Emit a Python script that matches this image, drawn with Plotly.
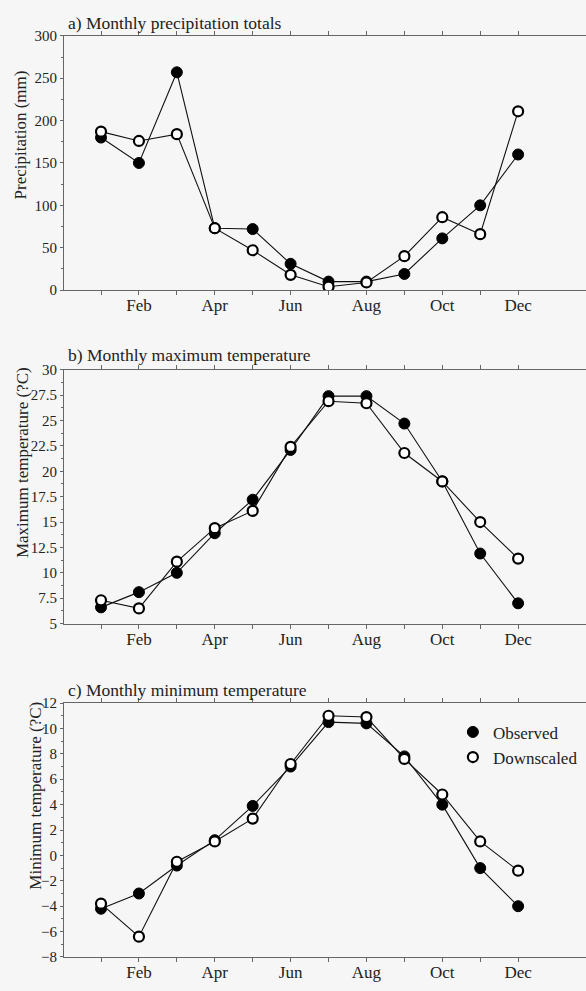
import plotly.graph_objects as go
from plotly.subplots import make_subplots

months = list(range(1, 13))
tick_labels = ["", "Feb", "", "Apr", "", "Jun", "", "Aug", "", "Oct", "", "Dec"]

precip_obs = [180, 150, 257, 73, 72, 31, 10, 10, 19, 61, 100, 160]
precip_down = [187, 176, 184, 73, 47, 18, 4, 9, 40, 86, 66, 211]

tmax_obs = [6.6, 8.1, 10.0, 13.9, 17.2, 22.1, 27.4, 27.4, 24.7, 19.0, 11.9, 7.0]
tmax_down = [7.3, 6.5, 11.1, 14.4, 16.1, 22.4, 26.9, 26.7, 21.8, 19.0, 15.0, 11.4]

tmin_obs = [-4.2, -3.0, -0.8, 1.2, 3.9, 7.0, 10.5, 10.4, 7.8, 4.0, -1.0, -4.0]
tmin_down = [-3.8, -6.4, -0.5, 1.1, 2.9, 7.2, 11.0, 10.9, 7.6, 4.8, 1.1, -1.2]

panels = [
    (precip_obs, precip_down, [0, 300], 50, 25, "a) Monthly precipitation totals", "Precipitation (mm)"),
    (tmax_obs, tmax_down, [5, 30], 2.5, 1.25, "b) Monthly maximum temperature", "Maximum temperature (?C)"),
    (tmin_obs, tmin_down, [-8, 12], 2, 1, "c) Monthly minimum temperature", "Minimum temperature (?C)"),
]

FONT = "Liberation Serif"
TXT = "#222222"
AX = "#666666"
BG = "#f6f6f6"

fig = make_subplots(rows=3, cols=1)

for i, (obs, down, yr, dt, mdt, title, ytitle) in enumerate(panels, start=1):
    leg = i == 3
    fig.add_trace(go.Scatter(x=months, y=obs, mode="lines", line=dict(color="#111111", width=1.1),
                             showlegend=False, hoverinfo="skip"), row=i, col=1)
    fig.add_trace(go.Scatter(x=months, y=obs, mode="markers", name="Observed",
                             marker=dict(symbol="circle", size=11, color="#000000",
                                         line=dict(color="#000000", width=1)),
                             showlegend=leg), row=i, col=1)
    fig.add_trace(go.Scatter(x=months, y=down, mode="lines", line=dict(color="#111111", width=1.1),
                             showlegend=False, hoverinfo="skip"), row=i, col=1)
    fig.add_trace(go.Scatter(x=months, y=down, mode="markers", name="Downscaled",
                             marker=dict(symbol="circle", size=10, color="#ffffff",
                                         line=dict(color="#000000", width=2.2)),
                             showlegend=leg), row=i, col=1)
    fig.update_xaxes(range=[0.024, 13.79], tickvals=months, ticktext=tick_labels,
                     ticks="outside", ticklen=4, tickcolor=AX, showline=True, linecolor=AX,
                     linewidth=1, mirror="ticks", showgrid=False, zeroline=False,
                     ticklabelstandoff=-4,
                     tickfont=dict(family=FONT, size=17, color=TXT), row=i, col=1)
    fig.update_yaxes(range=yr, dtick=dt, tick0=yr[0], ticks="outside", ticklen=3, tickcolor=AX,
                     showline=True, linecolor=AX, linewidth=1, showgrid=False, zeroline=False,
                     minor=dict(dtick=mdt, ticks="outside", ticklen=2, tickcolor=AX),
                     tickfont=dict(family=FONT, size=15, color=TXT), row=i, col=1)

doms = [[0.7107, 0.9714], [0.3686, 0.6290], [0.0267, 0.2871]]
fig.update_layout(
    yaxis=dict(domain=doms[0]), yaxis2=dict(domain=doms[1]), yaxis3=dict(domain=doms[2]),
    xaxis=dict(domain=[0, 1]), xaxis2=dict(domain=[0, 1]), xaxis3=dict(domain=[0, 1]),
)

ann = []
title_y = [0.985, 0.6438, 0.301]
ytitle_pos = [(-0.0833, 0.8698), (-0.0805, 0.5343), (-0.0563, 0.1917)]
for (obs, down, yr, dt, mdt, title, ytitle), ty, (yx, yy) in zip(panels, title_y, ytitle_pos):
    ann.append(dict(text=title, x=0.003, y=ty, xref="paper", yref="paper", xanchor="left",
                    yanchor="middle", showarrow=False, font=dict(family=FONT, size=17.5, color=TXT)))
    ann.append(dict(text=ytitle, x=yx, y=yy, xref="paper", yref="paper", xanchor="center",
                    yanchor="middle", textangle=-90, showarrow=False,
                    font=dict(family=FONT, size=17, color=TXT)))

fig.update_layout(
    width=586, height=991,
    margin=dict(l=64, r=0, t=0, b=0),
    paper_bgcolor=BG, plot_bgcolor=BG,
    annotations=ann,
    showlegend=True,
    legend=dict(x=0.745, y=0.2755, xanchor="left", yanchor="top", bgcolor="rgba(0,0,0,0)",
                font=dict(family=FONT, size=17, color=TXT), itemwidth=30, tracegroupgap=2),
)

fig.write_html("out.html", config={"displayModeBar": False},
               post_script="document.body.style.margin='0';document.body.style.padding='0';document.body.style.overflow='hidden';document.body.style.background='%s';" % BG)
